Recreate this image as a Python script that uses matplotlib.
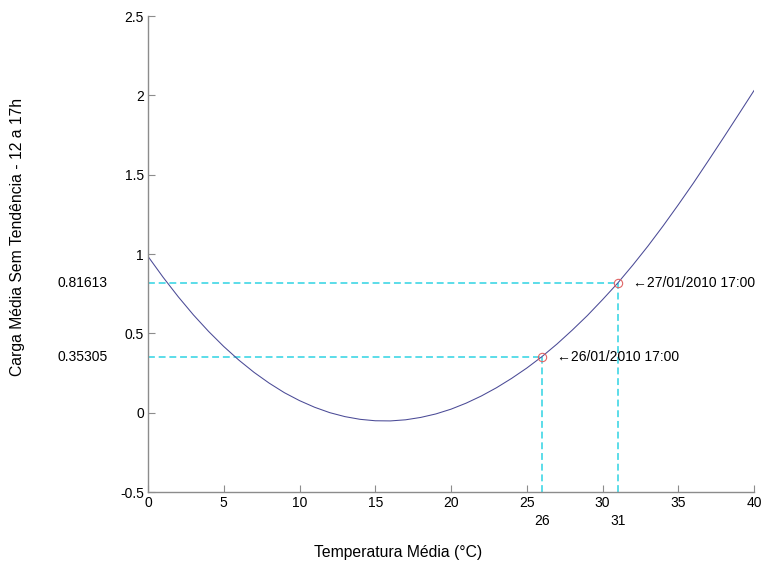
import matplotlib
matplotlib.use("Agg")
import matplotlib.pyplot as plt
from matplotlib.transforms import offset_copy

plt.rcParams['font.family'] = ['Liberation Sans', 'DejaVu Sans']

# Curve (one value per degree)
temp = list(range(0, 41))
carga = [0.985, 0.853, 0.730, 0.616, 0.512, 0.417, 0.331, 0.254, 0.186, 0.126,
         0.076, 0.034, 0.000, -0.025, -0.042, -0.051, -0.052, -0.045, -0.030, -0.008,
         0.022, 0.060, 0.105, 0.157, 0.216, 0.281, 0.35305, 0.433, 0.520, 0.612,
         0.712, 0.81613, 0.930, 1.050, 1.177, 1.310, 1.447, 1.590, 1.735, 1.882,
         2.030]

# Highlighted points
pt_x = [26, 31]
pt_y = [0.35305, 0.81613]
pt_labels = ["\u219026/01/2010 17:00", "\u219027/01/2010 17:00"]

xticks = [0, 5, 10, 15, 20, 25, 30, 35, 40]
yticks = [-0.5, 0, 0.5, 1, 1.5, 2, 2.5]
ytick_labels = ["-0.5", "0", "0.5", "1", "1.5", "2", "2.5"]

fig = plt.figure(figsize=(7.62, 5.65), dpi=100)
ax = fig.add_axes([148/762, 1-492/565, 606/762, 476/565])

cyan = '#2fd3e3'
for x, y in zip(pt_x, pt_y):
    ax.plot([0, x], [y, y], linestyle=(0, (4.5, 2.5)), color=cyan, lw=1.1, zorder=1)
    ax.plot([x, x], [-0.5, y], linestyle=(0, (4.5, 2.5)), color=cyan, lw=1.1, zorder=1)

ax.plot(temp, carga, color='#4a4a96', lw=0.75, zorder=2)
ax.plot(pt_x, pt_y, 'o', mfc='none', mec='#e06666', ms=6, mew=0.8, zorder=3)

for x, y, lab in zip(pt_x, pt_y, pt_labels):
    ax.annotate(lab, (x, y), xytext=(11, 0), textcoords='offset points',
                va='center', ha='left', fontsize=10)

ax.set_xlim(0, 40)
ax.set_ylim(-0.5, 2.5)
ax.set_xticks(xticks)
ax.set_xticklabels([str(t) for t in xticks])
ax.set_yticks(yticks)
ax.set_yticklabels(ytick_labels)

for s in ['top', 'right']:
    ax.spines[s].set_visible(False)
for s in ['left', 'bottom']:
    ax.spines[s].set_color('#8c8c8c')
    ax.spines[s].set_linewidth(1.0)
ax.tick_params(direction='in', length=5, color='#8c8c8c', labelsize=10, pad=3)

# Extra labels for highlighted values
low = offset_copy(ax.transData, fig=fig, x=0, y=-22, units='dots')
for x in pt_x:
    ax.text(x, -0.5, str(x), transform=low, ha='center', va='top', fontsize=10)
for y in pt_y:
    ax.text(-40/606, y, f"{y:.5f}", transform=ax.get_yaxis_transform(),
            ha='right', va='center', fontsize=10)

fig.text(398/762, 1-553/565, "Temperatura Média (°C)", ha='center', va='center', fontsize=11.3)
fig.text(18/762, 1-237/565, "Carga Média Sem Tendência - 12 a 17h", ha='center', va='center',
         rotation=90, fontsize=11.3)

fig.savefig('out.png', dpi=100)
